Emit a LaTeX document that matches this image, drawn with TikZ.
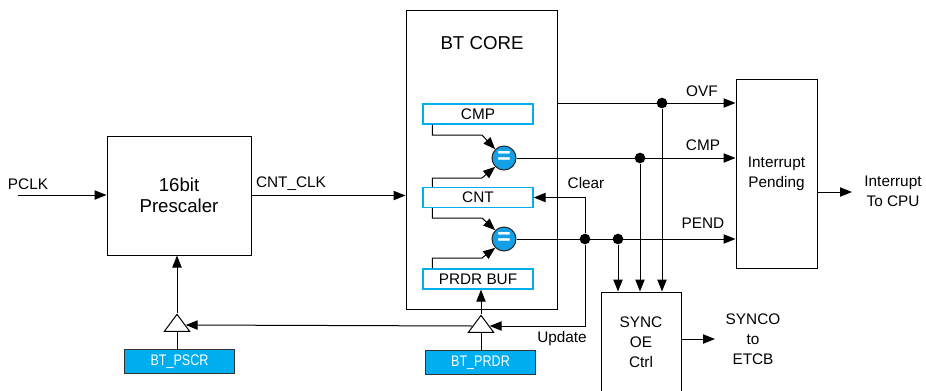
\documentclass[tikz,border=0pt]{standalone}
\usepackage{fontspec}
\setmainfont{Liberation Sans}
\usepackage{xcolor}
\usepackage{graphicx}
\usetikzlibrary{arrows.meta, positioning, shapes.geometric, calc}
\definecolor{btblue}{RGB}{0,174,239}
\definecolor{bteq}{RGB}{20,160,230}
\newcommand{\narrowtxt}[1]{\scalebox{0.82}[1]{#1}}

\tikzset{
  arr/.style={-{Triangle[length=9pt,width=7pt]}},
  block/.style={draw, fill=white, inner sep=0pt, align=center},
  title/.style={inner sep=0pt, align=center, font=\fontsize{14}{16}\selectfont},
  reg/.style={draw=btblue, line width=1pt, minimum width=82.5pt, minimum height=15pt, inner sep=0pt},
  cfg/.style={draw=black!80, fill=btblue, text=white, minimum width=83pt, minimum height=18pt, inner sep=0pt},
  cmpeq/.style={circle, draw=black!85, fill=bteq, minimum size=18pt, inner sep=0pt, text=white, font=\bfseries\LARGE},
  dot/.style={circle, fill, inner sep=0pt, minimum size=8pt},
  gate/.style={isosceles triangle, isosceles triangle stretches, shape border rotate=90,
    draw, fill=white, minimum width=19pt, minimum height=12.75pt, inner sep=0pt},
  lbl/.style={inner sep=0pt, align=center}
}

\begin{document}
\begin{tikzpicture}[x=0.75pt, y=-0.75pt, line width=0.75pt,
  font=\fontsize{11.5}{15}\selectfont]

\useasboundingbox (0,0) rectangle (926,390);
\clip (0,0) rectangle (926,390);

% ブロック
\node[block, title, minimum width=108pt, minimum height=89.25pt] (pre) at (179,195.5) {16bit\\Prescaler};
\node[block, minimum width=113.25pt, minimum height=224.25pt] (core) at (481.5,159.5) {};
\node[title] (coretitle) at (482,43) {BT CORE};
\node[block, minimum width=60.75pt, minimum height=141.75pt] (intp) at (776.5,173.5) {Interrupt\\Pending};
\node[block, minimum width=60pt, minimum height=90pt] (sync) at (641,352) {};
\node[lbl] (synctxt) at (641,342) {SYNC\\OE\\Ctrl};

% レジスタ
\node[reg] (cmp) at (478,114) {CMP};
\node[reg] (cnt) at (478,197.5) {CNT};
\node[reg] (buf) at (478,279) {PRDR BUF};
\node[cmpeq] (eq1) at (504,158) {=};
\node[cmpeq] (eq2) at (504,239) {=};

% 設定レジスタ
\node[cfg] (pscr) at (179.5,361.5) {\narrowtxt{BT\_PSCR}};
\node[cfg] (prdr) at (480.5,362.5) {\narrowtxt{BT\_PRDR}};
\node[gate] (g1) at (177,325) {};
\node[gate] (g2) at (481,326) {};

% 分岐点
\node[dot] (d1) at (662,103) {};
\node[dot] (d2) at (640,158) {};
\node[dot] (d3) at (585,239) {};
\node[dot] (d4) at (618,239) {};

% ラベル
\node[lbl] (pclklbl) at (28,184) {PCLK};
\node[lbl] (clklbl) at (291,184) {CNT\_CLK};
\node[lbl] (ovflbl) at (702,91) {OVF};
\node[lbl] (cmplbl) at (703,145) {CMP};
\node[lbl] (pendlbl) at (703,223) {PEND};
\node[lbl] (clrlbl) at (586,183) {Clear};
\node[lbl] (updlbl) at (562,339) {Update};
\node[lbl] (cpulbl) at (893,191) {Interrupt\\To CPU};
\node[lbl] (etcblbl) at (753,339) {SYNCO\\to\\ETCB};

\coordinate (pclk) at (18,195);
\coordinate (ovf) at (core.east |- d1);
\coordinate (cpu) at (852,192);
\coordinate (etcb) at (715,339);

% 矢印
\draw[arr] (pclk) -- (pclk -| pre.west);
\draw[arr] (pre.east) -- (pre.east -| core.west);
\draw[arr] (ovf) -- (ovf -| intp.west);
\draw[arr] (eq1.east) -- (eq1 -| intp.west);
\draw[arr] (eq2.east) -- (eq2 -| intp.west);
\foreach \d in {d1,d2,d4}
  \draw[arr] (\d) -- (\d |- sync.north);
\draw[arr] (d3) |- (cnt.east);
\draw[arr] (d3) |- (g2.east);
\draw[arr] (g2.west) -- (g1.east);
\draw (g2.south) -- (g2.south |- prdr.north);
\draw[arr] (g2.apex) -- (g2.apex |- buf.south);
\draw (g1.south) -- (g1.south |- pscr.north);
\draw[arr] (g1.apex) -- (g1.apex |- pre.south);
\draw[arr] (intp.east |- cpu) -- (cpu);
\draw[arr] (sync.east |- etcb) -- (etcb);

% 比較器への入力
\draw[arr] ([xshift=7.5pt]cmp.south west) |- (482,135) -- (eq1.north west);
\draw[arr] ([xshift=7.5pt]cnt.north west) |- (482,178) -- (eq1.south west);
\draw[arr] ([xshift=7.5pt]cnt.south west) |- (482,218) -- (eq2.north west);
\draw[arr] ([xshift=7.5pt]buf.north west) |- (482,258) -- (eq2.south west);

\end{tikzpicture}
\end{document}
